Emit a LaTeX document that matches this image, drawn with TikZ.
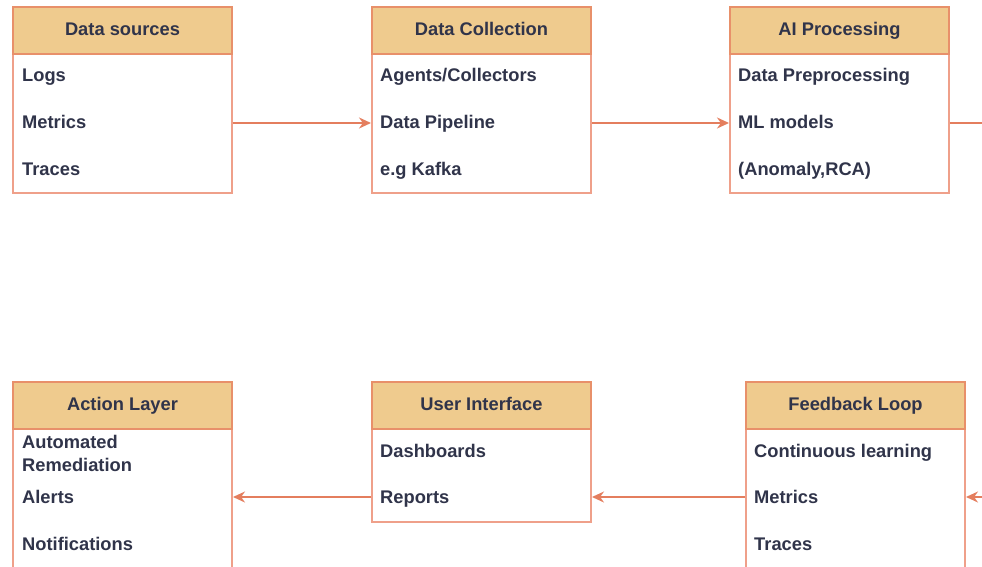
\documentclass[tikz,border=0pt]{standalone}
\usepackage{fontspec}
\setmainfont{Liberation Sans}
\usetikzlibrary{arrows.meta}
\definecolor{hdr}{HTML}{EFCB8E}
\definecolor{hdrline}{HTML}{E8906A}
\definecolor{bodyline}{HTML}{EFA08A}
\definecolor{txt}{HTML}{30344A}
\definecolor{arrc}{HTML}{E47E5E}
\begin{document}
\begin{tikzpicture}[x=1pt,y=-1pt,
 head/.style={draw=hdrline,fill=hdr,line width=2pt,minimum width=219pt,minimum height=47pt,anchor=north west,inner sep=0pt,font=\bfseries\fontsize{18.3}{20}\selectfont,text=txt,text height=13pt,text depth=3.5pt},
 body/.style={draw=bodyline,fill=white,line width=2pt,minimum width=219pt,anchor=north west,inner sep=0pt},
 item/.style={anchor=base west,font=\bfseries\fontsize{18.3}{20}\selectfont,text=txt,inner sep=0pt},
 link/.style={draw=arrc,line width=1.8pt,-{Stealth[length=12pt,width=11pt]}},
 plain/.style={draw=arrc,line width=1.8pt}]
\useasboundingbox (0,0) rectangle (982,567);
\clip (0,0) rectangle (982,567);
% top row
\node[body,minimum height=140pt] (b1) at (12,52) {};
\node[head] (h1) at (12,6) {Data sources};
\node[item] (b1a) at (22,81.5) {Logs};
\node[item] (b1b) at (22,128.5) {Metrics};
\node[item] (b1c) at (22,175.5) {Traces};

\node[body,minimum height=140pt] (b2) at (371,52) {};
\node[head] (h2) at (371,6) {Data Collection};
\node[item] (b2a) at (380,81.5) {Agents/Collectors};
\node[item] (b2b) at (380,128.5) {Data Pipeline};
\node[item] (b2c) at (380,175.5) {e.g Kafka};

\node[body,minimum height=140pt] (b3) at (729,52) {};
\node[head] (h3) at (729,6) {AI Processing};
\node[item] (b3a) at (738,81.5) {Data Preprocessing};
\node[item] (b3b) at (738,128.5) {ML models};
\node[item] (b3c) at (738,175.5) {(Anomaly,RCA)};

% bottom row
\node[body,minimum height=160pt] (b4) at (12,428) {};
\node[head] (h4) at (12,381) {Action Layer};
\node[item] (b4a) at (22,448.5) {Automated};
\node[item] (b4b) at (22,471.5) {Remediation};
\node[item] (b4c) at (22,503.5) {Alerts};
\node[item] (b4d) at (22,550.5) {Notifications};

\node[body,minimum height=93pt] (b5) at (371,428) {};
\node[head] (h5) at (371,381) {User Interface};
\node[item] (b5a) at (380,457.5) {Dashboards};
\node[item] (b5b) at (380,503.5) {Reports};

\node[body,minimum height=160pt] (b6) at (745,428) {};
\node[head] (h6) at (745,381) {Feedback Loop};
\node[item] (b6a) at (754,457.5) {Continuous learning};
\node[item] (b6b) at (754,503.5) {Metrics};
\node[item] (b6c) at (754,550.5) {Traces};

\coordinate (outR) at (995,122);
\coordinate (inR) at (995,497);
\coordinate (rowB) at (0,497);

% connectors
\draw[link] (b1.east) -- (b2.west);
\draw[link] (b2.east) -- (b3.west);
\draw[plain] (b3.east) -- (b3.east -| outR);
\draw[link] (inR) -- (b6.east |- rowB);
\draw[link] (b6.west |- rowB) -- (b5.east |- rowB);
\draw[link] (b5.west |- rowB) -- (b4.east |- rowB);
\end{tikzpicture}
\end{document}
